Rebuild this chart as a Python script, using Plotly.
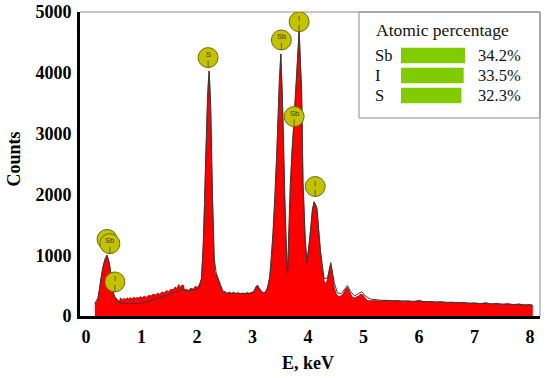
import plotly.graph_objects as go

# ---------------- data ----------------
energy_keV = [0.16, 0.20, 0.24, 0.27, 0.30, 0.34, 0.38, 0.42, 0.45, 0.48, 0.51, 0.54, 0.57, 0.60,
              0.62, 0.65, 0.68, 0.71, 0.74, 0.77, 0.80, 0.83, 0.86, 0.89, 0.92, 0.95, 0.98, 1.01,
              1.05, 1.09, 1.13, 1.17, 1.21, 1.25, 1.29, 1.33, 1.37, 1.41, 1.45, 1.49, 1.53, 1.57,
              1.61, 1.64, 1.67, 1.70, 1.73, 1.76, 1.77, 1.81, 1.85, 1.89, 1.93, 1.97, 2.01, 2.05,
              2.08, 2.11, 2.14, 2.17, 2.20, 2.22, 2.24, 2.26, 2.28, 2.31, 2.33, 2.35, 2.38, 2.41,
              2.44, 2.47, 2.50, 2.54, 2.58, 2.62, 2.66, 2.70, 2.74, 2.78, 2.82, 2.86, 2.90, 2.94,
              2.98, 3.02, 3.06, 3.09, 3.12, 3.16, 3.20, 3.24, 3.28, 3.31, 3.34, 3.37, 3.41, 3.44,
              3.48, 3.51, 3.54, 3.56, 3.58, 3.61, 3.63, 3.65, 3.68, 3.71, 3.74, 3.77, 3.80, 3.84,
              3.87, 3.89, 3.91, 3.93, 3.95, 3.98, 4.00, 4.02, 4.05, 4.08, 4.11, 4.14, 4.16, 4.19,
              4.22, 4.25, 4.29, 4.32, 4.35, 4.38, 4.41, 4.44, 4.47, 4.51, 4.55, 4.59, 4.63, 4.67,
              4.71, 4.75, 4.79, 4.83, 4.87, 4.91, 4.95, 4.99, 5.03, 5.07, 5.11, 5.20, 5.30, 5.40,
              5.50, 5.60, 5.70, 5.80, 5.90, 6.00, 6.10, 6.20, 6.30, 6.40, 6.50, 6.60, 6.70, 6.80,
              6.90, 7.00, 7.10, 7.20, 7.30, 7.40, 7.50, 7.60, 7.70, 7.80, 7.90, 8.00, 8.05]
counts = [210, 230, 420, 600, 780, 930, 1000, 860, 700, 420, 320, 290, 270, 230,
          300, 260, 290, 270, 300, 280, 300, 285, 310, 290, 305, 295, 320, 300,
          325, 310, 340, 330, 360, 345, 375, 360, 395, 380, 420, 400, 440, 430,
          480, 450, 520, 470, 510, 500, 430, 440, 420, 460, 440, 490, 470, 530,
          620, 1100, 1950, 3050, 3800, 4030, 3500, 2600, 1800, 900, 680, 700, 620, 540,
          450, 390, 400, 370, 395, 375, 390, 370, 385, 365, 380, 370, 385, 375,
          390, 400, 480, 510, 460, 400, 385, 400, 500, 640, 900, 1360, 2000, 2720,
          3820, 4310, 3540, 2700, 1900, 1000, 660, 1200, 2180, 2700, 3100, 3500, 3980, 4700,
          4100, 3540, 2180, 1600, 1250, 880, 1000, 1200, 1450, 1750, 1870, 1820, 1760, 1400,
          1080, 800, 580, 520, 600, 760, 850, 700, 480, 360, 320, 330, 360, 430,
          470, 400, 320, 295, 310, 330, 360, 345, 290, 260, 250, 255, 245, 258,
          240, 250, 238, 248, 235, 260, 232, 240, 228, 236, 222, 228, 215, 225,
          205, 215, 200, 220, 195, 210, 190, 205, 185, 200, 178, 190, 170]

fit_keV = [0.16, 0.22, 0.27, 0.31, 0.35, 0.38, 0.42, 0.46, 0.50, 0.55, 0.60, 0.80, 1.00, 1.20,
           1.40, 1.60, 1.75, 1.77, 1.90, 2.02, 2.08, 2.12, 2.16, 2.19, 2.22, 2.25, 2.28, 2.31,
           2.35, 2.40, 2.46, 2.55, 2.80, 3.00, 3.05, 3.09, 3.13, 3.20, 3.26, 3.31, 3.37, 3.44,
           3.48, 3.51, 3.54, 3.58, 3.63, 3.68, 3.74, 3.80, 3.84, 3.88, 3.91, 3.95, 3.98, 4.03,
           4.08, 4.11, 4.16, 4.22, 4.29, 4.35, 4.41, 4.47, 4.53, 4.60, 4.66, 4.71, 4.77, 4.84,
           4.91, 4.97, 5.03, 5.12, 5.30, 6.00, 7.00, 8.05]
fit_counts = [210, 300, 620, 820, 950, 1000, 870, 620, 360, 260, 215, 205, 210, 260,
              320, 390, 440, 410, 420, 450, 600, 1300, 2700, 3600, 4030, 3400, 1900, 950,
              680, 560, 420, 370, 365, 370, 440, 500, 440, 370, 420, 640, 1360, 2720,
              3820, 4310, 3540, 1900, 660, 2180, 3100, 3980, 4700, 3800, 2180, 1250, 880, 1250,
              1750, 1880, 1780, 1100, 620, 620, 880, 560, 380, 370, 440, 500, 400, 330,
              370, 400, 330, 280, 260, 240, 210, 180]

# element marker labels
label_text = ["", "Sb", "I", "S", "Sb", "I", "Sb", "I"]
label_keV = [0.38, 0.43, 0.52, 2.20, 3.52, 3.84, 3.75, 4.13]
label_counts = [1260, 1190, 560, 4250, 4540, 4840, 3280, 2130]

# atomic percentage inset
elements = ["Sb", "I", "S"]
atomic_pct = [34.2, 33.5, 32.3]
pct_labels = ["34.2%", "33.5%", "32.3%"]

x_ticks = [0, 1, 2, 3, 4, 5, 6, 7, 8]
y_ticks = [0, 1000, 2000, 3000, 4000, 5000]

# ---------------- figure ----------------
W, H = 550, 378
ML, MR, MT, MB = 80, 10, 12, 62
PW, PH = W - ML - MR, H - MT - MB


def px(x):
    return (x - ML) / PW


def py(y):
    return (H - MB - y) / PH


fig = go.Figure()
fig.add_trace(go.Scatter(x=energy_keV, y=counts, mode="lines", fill="tozeroy",
                         fillcolor="#ff0000", line=dict(color="#7a0000", width=0.7),
                         hoverinfo="skip", showlegend=False))
fig.add_trace(go.Scatter(x=fit_keV, y=fit_counts, mode="lines",
                         line=dict(color="#3a3a3a", width=1), hoverinfo="skip",
                         showlegend=False))

# inset bars
fig.add_trace(go.Bar(x=atomic_pct, y=elements, orientation="h", xaxis="x2", yaxis="y2",
                     marker=dict(color="#80cc00", line=dict(width=0)), width=0.78,
                     showlegend=False, hoverinfo="skip"))

shapes = []
annotations = []

# plot frame (top/right gray)
shapes.append(dict(type="line", xref="paper", yref="paper", x0=0, x1=1, y0=1, y1=1,
                   line=dict(color="#8c8c8c", width=1)))
shapes.append(dict(type="line", xref="paper", yref="paper", x0=1, x1=1, y0=0, y1=1,
                   line=dict(color="#8c8c8c", width=1)))
# inset box
shapes.append(dict(type="rect", xref="paper", yref="paper", x0=px(359), x1=1, y0=py(118), y1=1,
                   line=dict(color="#8c8c8c", width=1), fillcolor="rgba(0,0,0,0)"))

# element labels
for t, e, c in zip(label_text, label_keV, label_counts):
    shapes.append(dict(type="circle", xref="x", yref="y", xsizemode="pixel", ysizemode="pixel",
                       xanchor=e, yanchor=c, x0=-10, x1=10, y0=-10, y1=10,
                       fillcolor="#c2c200", line=dict(color="#6e6e00", width=1)))
    if t:
        shapes.append(dict(type="line", xref="x", yref="y", xsizemode="pixel", ysizemode="pixel",
                           xanchor=e, yanchor=c, x0=0, x1=0, y0=-10, y1=-3,
                           line=dict(color="#4a4a00", width=0.8)))
        annotations.append(dict(x=e, y=c, xref="x", yref="y", text=t, showarrow=False,
                                xanchor="center", yanchor="middle", yshift=3,
                                font=dict(family="Liberation Sans", size=7.5, color="#3a3a00")))

# inset text
annotations.append(dict(x=px(374), y=py(30), xref="paper", yref="paper", xanchor="left",
                        yanchor="middle", text="Atomic percentage", showarrow=False,
                        font=dict(family="Liberation Serif", size=17.5, color="#111")))
row_y = [55.5, 75.5, 96]
for el, lab, ry in zip(elements, pct_labels, row_y):
    annotations.append(dict(x=px(373), y=py(ry), xref="paper", yref="paper", xanchor="left",
                            yanchor="middle", text=el, showarrow=False,
                            font=dict(family="Liberation Serif", size=16.5, color="#111")))
    annotations.append(dict(x=px(476), y=py(ry), xref="paper", yref="paper", xanchor="left",
                            yanchor="middle", text=lab, showarrow=False,
                            font=dict(family="Liberation Serif", size=16.5, color="#111")))

# axis titles
annotations.append(dict(x=px(13.5), y=py(159), xref="paper", yref="paper", text="<b>Counts</b>",
                        textangle=-90, showarrow=False, xanchor="center", yanchor="middle",
                        font=dict(family="Liberation Serif", size=18, color="#000")))
annotations.append(dict(x=px(308), y=py(363), xref="paper", yref="paper", text="<b>E, keV</b>",
                        showarrow=False, xanchor="center", yanchor="middle",
                        font=dict(family="Liberation Serif", size=18, color="#000")))

fig.update_layout(
    width=W, height=H,
    margin=dict(l=ML, r=MR, t=MT, b=MB, autoexpand=False),
    paper_bgcolor="white", plot_bgcolor="white",
    shapes=shapes, annotations=annotations,
    xaxis=dict(range=[-0.108, 8.18], tickvals=x_ticks, showgrid=False, zeroline=False,
               showline=True, linecolor="black", linewidth=3, ticks="", automargin=False,
               ticklabelstandoff=2,
               tickfont=dict(family="Liberation Serif", size=18, color="#000", weight="bold")),
    yaxis=dict(range=[0, 5000], tickvals=y_ticks, showgrid=False, zeroline=False,
               showline=True, linecolor="black", linewidth=3, ticks="", automargin=False,
               ticklabelstandoff=2,
               tickfont=dict(family="Liberation Serif", size=18, color="#000", weight="bold")),
    xaxis2=dict(domain=[px(401), px(465)], range=[0, 34.2], anchor="y2", visible=False,
                automargin=False),
    yaxis2=dict(domain=[py(105.5), py(45.5)], anchor="x2", visible=False, automargin=False,
                categoryorder="array", categoryarray=["S", "I", "Sb"], range=[-0.5, 2.5]),
    bargap=0.22,
)

fig.write_html("out.html", config={"displayModeBar": False},
               post_script="document.body.style.margin='0';document.body.style.padding='0';")
